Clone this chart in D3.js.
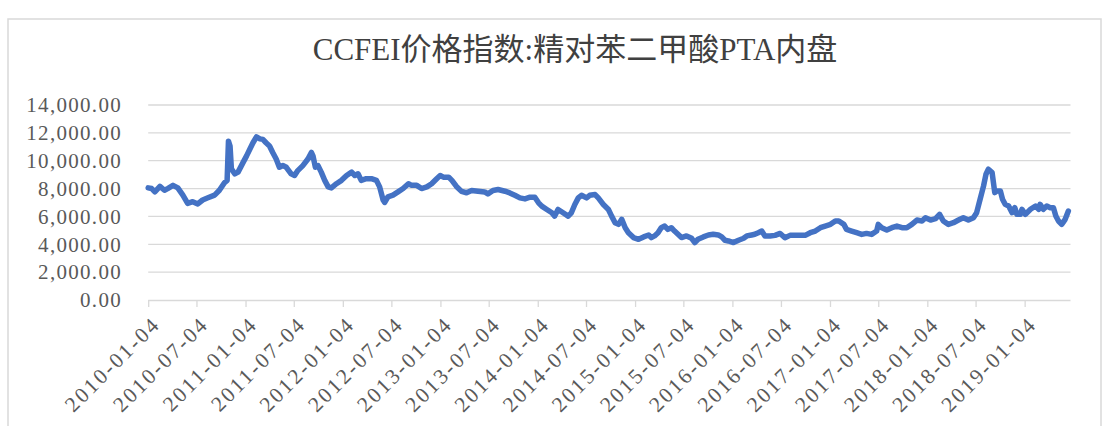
<!DOCTYPE html>
<html><head><meta charset="utf-8">
<script src="https://cdn.jsdelivr.net/npm/d3@7"></script>
<style>html,body{margin:0;padding:0;background:#fff;}svg{display:block;}</style>
</head><body>
<svg id="chart" width="1112" height="426"></svg>
<script>
const title = "CCFEI价格指数:精对苯二甲酸PTA内盘";
const yTicks = [0, 2000, 4000, 6000, 8000, 10000, 12000, 14000];
const xTickLabels = ["2010-01-04","2010-07-04","2011-01-04","2011-07-04","2012-01-04","2012-07-04","2013-01-04","2013-07-04","2014-01-04","2014-07-04","2015-01-04","2015-07-04","2016-01-04","2016-07-04","2017-01-04","2017-07-04","2018-01-04","2018-07-04","2019-01-04"];
const dates = ["2010-01-04","2010-01-17","2010-01-29","2010-02-17","2010-03-06","2010-03-18","2010-04-07","2010-04-25","2010-05-14","2010-06-01","2010-06-20","2010-07-09","2010-07-27","2010-08-16","2010-09-10","2010-09-28","2010-10-17","2010-10-27","2010-11-01","2010-11-07","2010-11-12","2010-11-25","2010-12-07","2010-12-26","2011-01-08","2011-01-20","2011-02-01","2011-02-14","2011-02-27","2011-03-10","2011-03-22","2011-04-04","2011-04-16","2011-04-29","2011-05-11","2011-05-24","2011-06-06","2011-06-24","2011-07-07","2011-07-19","2011-08-07","2011-08-26","2011-09-08","2011-09-14","2011-09-23","2011-10-03","2011-10-15","2011-10-28","2011-11-10","2011-11-22","2011-12-11","2011-12-30","2012-01-18","2012-02-06","2012-02-18","2012-03-01","2012-03-13","2012-04-01","2012-04-20","2012-05-09","2012-05-21","2012-06-03","2012-06-09","2012-06-21","2012-07-10","2012-07-29","2012-08-17","2012-09-06","2012-09-18","2012-10-07","2012-10-25","2012-11-14","2012-12-02","2012-12-21","2013-01-03","2013-01-15","2013-02-04","2013-02-16","2013-03-05","2013-03-24","2013-04-12","2013-05-01","2013-05-25","2013-06-19","2013-07-01","2013-07-20","2013-08-08","2013-09-03","2013-09-21","2013-10-10","2013-10-29","2013-11-17","2013-12-06","2013-12-24","2014-01-07","2014-01-19","2014-02-07","2014-02-26","2014-03-08","2014-03-21","2014-04-09","2014-04-28","2014-05-10","2014-05-23","2014-06-05","2014-06-17","2014-07-06","2014-07-18","2014-08-07","2014-08-19","2014-09-07","2014-09-26","2014-10-08","2014-10-21","2014-11-03","2014-11-15","2014-11-28","2014-12-10","2014-12-29","2015-01-17","2015-02-05","2015-02-24","2015-03-06","2015-03-18","2015-03-31","2015-04-12","2015-04-25","2015-05-07","2015-05-20","2015-06-01","2015-06-14","2015-06-27","2015-07-16","2015-08-04","2015-08-16","2015-08-28","2015-09-17","2015-10-06","2015-10-24","2015-11-12","2015-11-25","2015-12-07","2015-12-20","2016-01-08","2016-01-27","2016-02-15","2016-02-27","2016-03-16","2016-03-28","2016-04-10","2016-04-23","2016-05-05","2016-05-24","2016-06-12","2016-07-01","2016-07-19","2016-08-07","2016-08-26","2016-09-14","2016-10-03","2016-10-22","2016-11-10","2016-11-29","2016-12-17","2017-01-06","2017-01-24","2017-02-06","2017-02-25","2017-03-07","2017-03-26","2017-04-14","2017-05-03","2017-05-21","2017-06-09","2017-06-28","2017-07-04","2017-07-17","2017-08-05","2017-08-24","2017-09-12","2017-10-01","2017-10-19","2017-11-07","2017-11-26","2017-12-15","2017-12-28","2018-01-16","2018-02-04","2018-02-19","2018-03-05","2018-03-24","2018-04-12","2018-05-01","2018-05-19","2018-06-07","2018-06-26","2018-07-08","2018-07-21","2018-08-03","2018-08-12","2018-08-21","2018-09-04","2018-09-14","2018-09-22","2018-10-05","2018-10-13","2018-10-23","2018-11-05","2018-11-18","2018-11-28","2018-12-06","2018-12-19","2018-12-25","2019-01-07","2019-01-26","2019-02-14","2019-02-26","2019-03-03","2019-03-15","2019-03-28","2019-04-10","2019-04-22","2019-05-01","2019-05-11","2019-05-23","2019-06-05","2019-06-17"];
const values = [8050,8000,7770,8160,7880,8000,8230,8050,7530,6940,7060,6900,7180,7340,7530,7880,8420,8590,11400,11050,9410,9060,9180,9880,10350,10820,11290,11710,11570,11530,11290,11060,10590,10120,9530,9650,9530,9060,8940,9290,9650,10120,10590,10350,9530,9650,9180,8590,8120,8050,8350,8590,8940,9180,8940,9060,8590,8710,8710,8590,8120,7180,7010,7410,7530,7760,8000,8350,8230,8230,8000,8120,8350,8710,8940,8820,8820,8590,8150,7800,7700,7860,7810,7760,7620,7860,7930,7810,7690,7520,7330,7260,7380,7380,6980,6740,6500,6260,6020,6500,6260,6020,6260,6860,7330,7520,7330,7520,7570,7330,6860,6500,6020,5550,5430,5790,5190,4830,4480,4360,4530,4670,4480,4600,4830,5190,5310,5070,5190,4950,4720,4480,4600,4430,4120,4360,4530,4670,4720,4670,4530,4290,4240,4120,4290,4430,4600,4670,4720,4830,4950,4600,4590,4640,4780,4470,4640,4640,4640,4640,4830,4950,5190,5310,5430,5670,5670,5430,5070,4950,4830,4710,4780,4710,4950,5430,5190,5020,5190,5310,5190,5190,5430,5740,5670,5910,5740,5840,6150,5670,5430,5550,5740,5910,5740,5910,6270,7230,8190,9030,9390,9150,7710,7830,7830,7230,6870,6750,6270,6630,6150,6150,6510,6150,6510,6750,6510,6870,6510,6750,6630,6630,6030,5670,5430,5790,6390];
const domainStart = "2010-01-04", domainEnd = "2019-06-25";

const parse = d3.timeParse("%Y-%m-%d");
const data = dates.map((d, i) => ({date: parse(d), value: values[i]}));
const svg = d3.select("#chart");
const L = 148.2, R = 1070.5, T = 105, B = 300;
const x = d3.scaleTime().domain([parse(domainStart), parse(domainEnd)]).range([L, R]);
const y = d3.scaleLinear().domain([0, 14000]).range([B, T]);

// frame
svg.append("rect").attr("x", 8).attr("y", 19).attr("width", 1093).attr("height", 440)
  .attr("fill", "#fff").attr("stroke", "#d9d9d9").attr("stroke-width", 1.5);

svg.append("text").attr("x", 575).attr("y", 60).attr("text-anchor", "middle")
  .attr("font-family", "'Liberation Serif','Noto Sans CJK SC',serif").attr("font-size", 31)
  .attr("fill", "#404040").text(title);

// gridlines
svg.append("g").selectAll("line").data(yTicks.filter(v => v > 0)).join("line")
  .attr("x1", L).attr("x2", R).attr("y1", d => y(d)).attr("y2", d => y(d))
  .attr("stroke", "#d9d9d9").attr("stroke-width", 1.3);

// y axis labels
const fmt = d3.format(",.2f");
svg.append("g").selectAll("text").data(yTicks).join("text")
  .attr("x", 122).attr("y", d => y(d)).attr("dy", "0.35em").attr("text-anchor", "end")
  .attr("font-family", "'Liberation Serif',serif").attr("font-size", 21)
  .attr("letter-spacing", 1.3).attr("fill", "#595959").text(d => fmt(d));

// x axis
const tickDates = xTickLabels.map(parse);
const xAxis = d3.axisBottom(x).tickValues(tickDates).tickSize(7).tickFormat("");
const gx = svg.append("g").attr("transform", `translate(0,${B})`).call(xAxis);
gx.select(".domain").attr("d", `M${L},0.5H${R}`).attr("stroke", "#d9d9d9").attr("stroke-width", 1.3);
gx.selectAll(".tick line").attr("stroke", "#d9d9d9").attr("stroke-width", 1.3);

svg.append("g").selectAll("text").data(xTickLabels).join("text")
  .attr("transform", d => `translate(${x(parse(d)) + 8},${B + 20}) rotate(-45)`)
  .attr("text-anchor", "end").attr("dy", "0.35em")
  .attr("font-family", "'Liberation Serif',serif").attr("font-size", 21.5)
  .attr("letter-spacing", 2.4).attr("fill", "#595959").text(d => d);

// line
const line = d3.line().x(d => x(d.date)).y(d => y(d.value));
svg.append("path").datum(data).attr("d", line).attr("fill", "none")
  .attr("stroke", "#4472C4").attr("stroke-width", 5.5)
  .attr("stroke-linejoin", "round").attr("stroke-linecap", "round");
</script>
</body></html>
